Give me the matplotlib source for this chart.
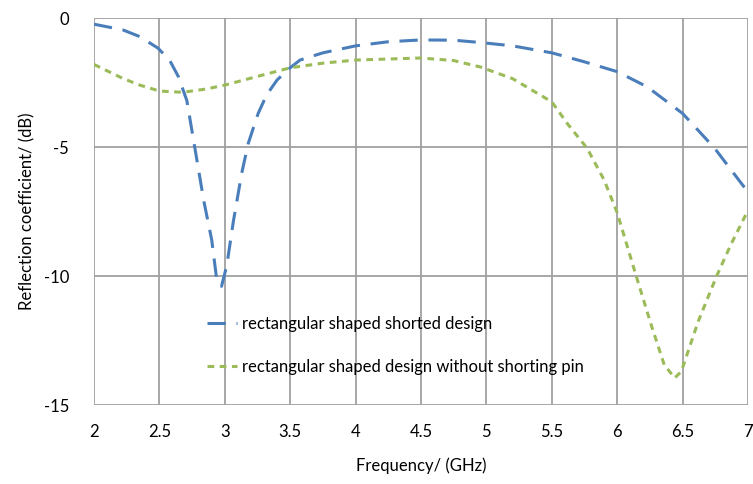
import numpy as np
import matplotlib.pyplot as plt

plt.rcParams['font.family'] = ['Lato', 'DejaVu Sans']
plt.rcParams['axes.unicode_minus'] = False

# rectangular shaped shorted design
freq_a = [2.0, 2.22, 2.35, 2.49, 2.58, 2.645, 2.71, 2.77, 2.84, 2.9, 2.94, 2.975, 3.015,
          3.065, 3.13, 3.18, 3.255, 3.32, 3.4, 3.5, 3.575, 3.75, 4.0, 4.25, 4.5, 4.75,
          4.955, 5.2, 5.5, 5.75, 6.0, 6.23, 6.5, 6.745, 7.0]
s11_shorted = [-0.24, -0.46, -0.72, -1.17, -1.65, -2.27, -3.2, -5.0, -7.1, -8.6, -10.2, -10.4,
               -9.6, -7.9, -6.0, -4.85, -3.7, -2.98, -2.4, -1.93, -1.63, -1.35, -1.08, -0.92,
               -0.85, -0.86, -0.95, -1.08, -1.35, -1.7, -2.08, -2.67, -3.7, -5.05, -6.75]

# rectangular shaped design without shorting pin
freq_b = [2.0, 2.22, 2.35, 2.5, 2.68, 2.86, 3.0, 3.245, 3.5, 3.75, 4.0, 4.5, 4.75, 4.955,
          5.2, 5.5, 5.62, 5.77, 5.9, 6.0, 6.145, 6.26, 6.36, 6.44, 6.49, 6.62, 6.76, 6.87, 7.0]
s11_no_pin = [-1.8, -2.34, -2.6, -2.83, -2.88, -2.75, -2.6, -2.27, -1.93, -1.75, -1.63, -1.55,
              -1.65, -1.9, -2.35, -3.25, -4.1, -5.05, -6.28, -7.55, -10.0, -11.9, -13.45,
              -13.95, -13.7, -11.75, -10.0, -8.77, -7.45]

fig = plt.figure(figsize=(7.53, 4.84), dpi=100)
ax = fig.add_axes([0.1248, 0.1632, 0.8686, 0.7996])

ax.plot(freq_a, s11_shorted, color='#4a7ebb', linewidth=2.2, dashes=(6, 3.5),
        label='rectangular shaped shorted design')
ax.plot(freq_b, s11_no_pin, color='#9bbb59', linewidth=2.2, dashes=(2.2, 1.8),
        label='rectangular shaped design without shorting pin')

ax.set_xlim(2, 7)
ax.set_ylim(-15, 0)
ax.set_xticks(np.arange(2, 7.01, 0.5))
ax.set_xticklabels(['2', '2.5', '3', '3.5', '4', '4.5', '5', '5.5', '6', '6.5', '7'])
ax.set_yticks([0, -5, -10, -15])
ax.tick_params(length=0, labelsize=12, pad=14)
ax.tick_params(axis='y', pad=18)
ax.grid(True, color='#a0a0a0', linewidth=1.3)
ax.set_axisbelow(True)
for s in ax.spines.values():
    s.set_visible(False)

ax.set_xlabel('Frequency/ (GHz)', fontsize=12, labelpad=12)
ax.set_ylabel('Reflection coefficient/ (dB)', fontsize=12, labelpad=6)

ax.legend(loc='lower left', bbox_to_anchor=(0.15, 0.04), frameon=False, fontsize=12,
          handlelength=1.8, handletextpad=0.3, labelspacing=1.6)

plt.savefig('out.png', dpi=100)
